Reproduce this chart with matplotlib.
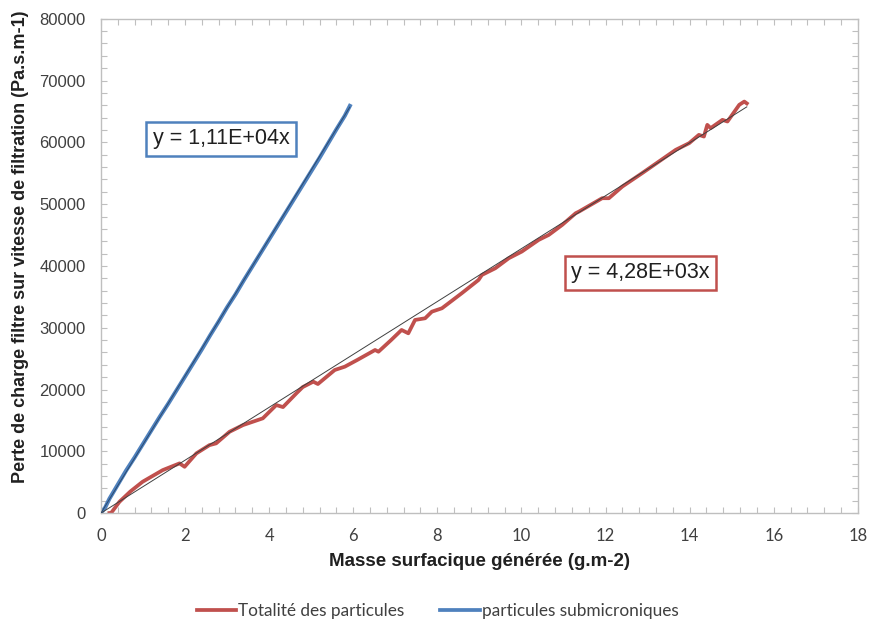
import matplotlib
matplotlib.use("Agg")
import matplotlib.pyplot as plt
from matplotlib.ticker import MultipleLocator
from matplotlib.lines import Line2D

# --- data -------------------------------------------------------------
red_x = [0.20, 0.24, 0.44, 0.70, 0.99, 1.20, 1.47, 1.87, 1.99, 2.27, 2.58, 2.74,
         3.06, 3.38, 3.85, 4.17, 4.33, 4.65, 4.80, 5.05, 5.16, 5.56, 5.80, 6.10,
         6.52, 6.60, 6.90, 7.15, 7.31, 7.47, 7.71, 7.87, 8.11, 8.58, 8.98, 9.06,
         9.38, 9.70, 10.01, 10.41, 10.65, 10.97, 11.29, 11.37, 11.92, 12.08, 12.40,
         12.87, 13.27, 13.67, 13.99, 14.22, 14.34, 14.42, 14.50, 14.78, 14.90,
         15.18, 15.30, 15.36]
red_y = [0, 0, 1830, 3500, 5070, 5900, 6960, 8050, 7500, 9670, 11000, 11290,
         13170, 14250, 15340, 17490, 17160, 19400, 20400, 21270, 20890, 23160, 23700, 24800,
         26400, 26120, 28000, 29640, 29100, 31260, 31530, 32600, 33150, 35580, 37730, 38540,
         39630, 41250, 42330, 44210, 45020, 46640, 48530, 48800, 50960, 50960, 52850,
         55010, 56900, 58790, 59870, 61210, 60940, 62830, 62300, 63640, 63370,
         66070, 66600, 66300]

blue_x = [0.0, 0.1, 0.2, 0.4, 0.6, 0.8, 1.0, 1.2, 1.4, 1.6, 1.8, 2.0, 2.2, 2.4, 2.6,
          2.8, 3.0, 3.2, 3.4, 3.6, 3.8, 4.0, 4.2, 4.4, 4.6, 4.8, 5.0, 5.2, 5.4, 5.6,
          5.8, 5.92]
blue_y = [0, 900, 2300, 4600, 6900, 9000, 11200, 13400, 15600, 17700, 19900, 22100,
          24300, 26500, 28800, 31000, 33300, 35400, 37700, 39900, 42100, 44300, 46500,
          48700, 50900, 53100, 55300, 57500, 59800, 62100, 64300, 65900]

red_slope = 4.28e3
blue_slope = 1.11e4
red_label = "Totalité des particules"
blue_label = "particules submicroniques"
red_eq = "y = 4,28E+03x"
blue_eq = "y = 1,11E+04x"
xlabel = "Masse surfacique générée (g.m-2)"
ylabel = "Perte de charge filtre sur vitesse de filtration (Pa.s.m-1)"

RED = "#C0504D"
BLUE = "#4F81BD"
GRAY = "#BFBFBF"
TXT = "#404040"

fig = plt.figure(figsize=(8.7, 6.25), dpi=100)
ax = fig.add_axes([0.116, 0.179, 0.870, 0.791])

ax.plot(red_x, red_y, color=RED, lw=2.7, solid_joinstyle="round", zorder=2)
ax.plot(blue_x, blue_y, color=BLUE, lw=2.9, solid_joinstyle="round", zorder=2)

# linear trend lines through origin
rx = [0, red_x[-1]]
bx = [0, blue_x[-1]]
ax.plot(rx, [red_slope * v for v in rx], color="#404040", lw=0.7, zorder=3)
ax.plot(bx, [blue_slope * v for v in bx], color="#2A4A70", lw=0.7, zorder=3)

ax.set_xlim(0, 18)
ax.set_ylim(0, 80000)
ax.xaxis.set_major_locator(MultipleLocator(2))
ax.xaxis.set_minor_locator(MultipleLocator(0.4))
ax.yaxis.set_major_locator(MultipleLocator(10000))
ax.yaxis.set_minor_locator(MultipleLocator(2000))

for s in ax.spines.values():
    s.set_color(GRAY)
    s.set_linewidth(1.0)
ax.tick_params(which="both", direction="in", top=True, right=True, color=GRAY,
               length=4, width=0.8)
ax.tick_params(axis="x", which="major", labelsize=12, labelcolor=TXT, pad=11)
ax.tick_params(axis="y", which="major", labelsize=12, labelcolor=TXT, pad=11)
for t in ax.get_xticklabels():
    t.set_fontfamily("Lato")
for t in ax.get_yticklabels():
    t.set_fontfamily("Liberation Sans")

ax.set_xlabel(xlabel, fontsize=13.5, fontweight="bold", family="Liberation Sans",
              color="#202020", labelpad=6)
ax.set_ylabel(ylabel, fontsize=13, fontweight="bold", family="Liberation Sans",
              color="#202020")
ax.yaxis.set_label_coords(-0.095, 0.538)

ax.text(2.86, 60600, blue_eq, fontsize=15.5, family="Liberation Sans", color="#202020",
        ha="center", va="center",
        bbox=dict(boxstyle="square,pad=0.3", fc="white", ec=BLUE, lw=1.8))
ax.text(12.83, 38900, red_eq, fontsize=15.5, family="Liberation Sans", color="#202020",
        ha="center", va="center",
        bbox=dict(boxstyle="square,pad=0.3", fc="white", ec=RED, lw=1.8))

handles = [Line2D([], [], color=RED, lw=2.7), Line2D([], [], color=BLUE, lw=2.7)]
fig.legend(handles, [red_label, blue_label], loc="center", ncol=2,
           bbox_to_anchor=(0.503, 0.022), frameon=False, handlelength=2.3,
           handletextpad=0.1, columnspacing=2.1,
           prop={"family": "Lato", "size": 12.4}, labelcolor=TXT)

fig.savefig("out.png", dpi=100)
